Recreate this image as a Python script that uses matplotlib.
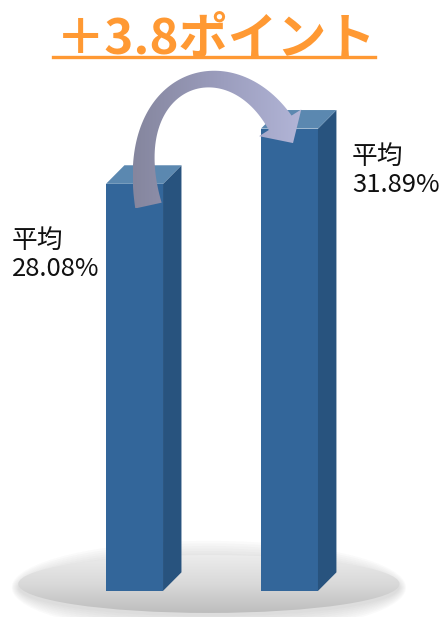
import matplotlib
matplotlib.use("Agg")
import matplotlib.pyplot as plt
import numpy as np
from matplotlib.patches import Polygon, Ellipse
from matplotlib.lines import Line2D
from matplotlib.colors import LinearSegmentedColormap

plt.rcParams['font.family'] = ['Noto Sans CJK JP', 'DejaVu Sans']

# data
categories = ["前", "後"]
values = [28.08, 31.89]
labels = ["平均\n28.08%", "平均\n31.89%"]
title = "＋3.8ポイント"

FRONT = "#33669a"
SIDE = "#28537e"
TOP = "#5b88b0"
ORANGE = "#ff9933"

W, H = 448, 617
fig = plt.figure(figsize=(W / 100, H / 100), dpi=100)
ax = fig.add_axes([0, 0, 1, 1])
XLIM, YLIM = (-0.868, 2.023), (-1.8, 40.76)

x = np.arange(len(values))
bw = 0.368
ddx, ddy = 0.119, 1.28   # 3d depth offset

# floor ellipse + soft shadow
ecx, ecy, ew, eh = 0.48, 0.48, 2.46, 4.0
for i in range(8):
    ax.add_patch(Ellipse((ecx, ecy - 0.25), ew + 0.012 * i, eh + 0.35 * i,
                         color="0.3", alpha=0.025, lw=0, zorder=1))
floor = Ellipse((ecx, ecy), ew, eh, facecolor="none", edgecolor="none", zorder=2)
ax.add_patch(floor)
floor_cmap = LinearSegmentedColormap.from_list("floor", ["#bdbdbd", "#d9d9d9", "#ececec"])
im = ax.imshow(np.linspace(0, 1, 256).reshape(-1, 1), cmap=floor_cmap, origin="lower",
               extent=[ecx - ew / 2, ecx + ew / 2, ecy - eh / 2, ecy + eh / 2],
               aspect="auto", zorder=2)
im.set_clip_path(floor)

# bars: front, side, top
ax.bar(x, values, width=bw, color=FRONT, zorder=3)
for xi, v in zip(x, values):
    r, l = xi + bw / 2, xi - bw / 2
    ax.add_patch(Polygon([(r, 0), (r + ddx, ddy), (r + ddx, v + ddy), (r, v)],
                         closed=True, color=SIDE, lw=0, zorder=3))
    ax.add_patch(Polygon([(l, v), (r, v), (r + ddx, v + ddy), (l + ddx, v + ddy)],
                         closed=True, color=TOP, lw=0, zorder=3))

ax.set_xlim(*XLIM)
ax.set_ylim(*YLIM)
ax.axis("off")

# curved arrow from first bar top to second bar top (built in display px)
tr = ax.transData
p0 = tr.transform((x[0] + 0.09, values[0] - 1.5))
p3 = tr.transform((x[1] - 0.06, values[1] + 0.4))
p1 = p0 + np.array([-28, 128])
p2 = p3 + np.array([-52, 82])
t = np.linspace(0, 1, 80)[:, None]
cen = (1 - t) ** 3 * p0 + 3 * (1 - t) ** 2 * t * p1 + 3 * (1 - t) * t ** 2 * p2 + t ** 3 * p3
der = 3 * (1 - t) ** 2 * (p1 - p0) + 6 * (1 - t) * t * (p2 - p1) + 3 * t ** 2 * (p3 - p2)
tan = der / np.linalg.norm(der, axis=1, keepdims=True)
nrm = np.column_stack([-tan[:, 1], tan[:, 0]])
half = (13.5 - 6.0 * np.sin(np.pi * t[:, 0] ** 0.9))[:, None]
left_edge = cen + nrm * half
right_edge = cen - nrm * half
tip = p3 + tan[-1] * 24
barb_l = p3 + nrm[-1] * 25
barb_r = p3 - nrm[-1] * 25
pts = np.vstack([left_edge, barb_l, tip, barb_r, right_edge[::-1]])
pts = tr.inverted().transform(pts)
arrow = Polygon(pts, closed=True, facecolor="none", edgecolor="none", zorder=4)
ax.add_patch(arrow)
arr_cmap = LinearSegmentedColormap.from_list("arr", ["#85869e", "#9a9cbc", "#b2b5d7"])
xa0, xa1 = pts[:, 0].min(), pts[:, 0].max()
ya0, ya1 = pts[:, 1].min(), pts[:, 1].max()
ia = ax.imshow(np.linspace(0, 1, 256).reshape(1, -1), cmap=arr_cmap, origin="lower",
               extent=[xa0, xa1, ya0, ya1], aspect="auto", zorder=4)
ia.set_clip_path(arrow)

ax.set_xlim(*XLIM)
ax.set_ylim(*YLIM)

# value labels
ax.text(x[0] - 0.79, values[0] - 4.9, labels[0], ha="left", va="center",
        fontsize=18.5, linespacing=1.1, color="#111111", zorder=5)
ax.text(x[1] + 0.403, values[1] - 2.9, labels[1], ha="left", va="center",
        fontsize=18.5, linespacing=1.1, color="#111111", zorder=5)

# title with underline
fig.text(216.5 / W, 1 - 53 / H, title, ha="center", va="baseline",
         fontsize=35.5, fontweight="bold", color=ORANGE)
fig.add_artist(Line2D([53 / W, 375 / W], [1 - 57 / H] * 2, color=ORANGE, lw=2.4))

fig.savefig("out.png", dpi=100)
